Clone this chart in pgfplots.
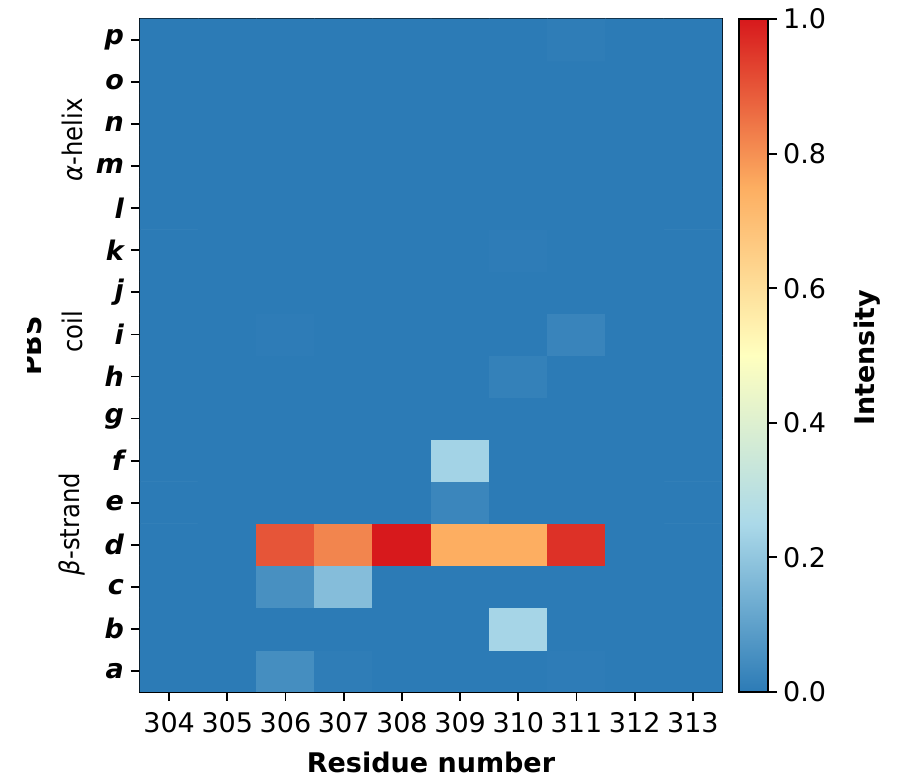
\documentclass[border=0pt]{standalone}
\usepackage{pgfplots}
\pgfplotsset{compat=1.18}
\usepackage{fontspec}
\setmainfont{DejaVu Sans}
\newfontfamily\cond{DejaVu Sans Condensed}
\pgfplotstableread{
x y c
304 0 0
305 0 0
306 0 0.05
307 0 0.006
308 0 0
309 0 0
310 0 0
311 0 0.004
312 0 0
313 0 0
304 1 0
305 1 0
306 1 0
307 1 0
308 1 0
309 1 0
310 1 0.24
311 1 0
312 1 0
313 1 0
304 2 0
305 2 0
306 2 0.055
307 2 0.175
308 2 0
309 2 0
310 2 0
311 2 0
312 2 0
313 2 0
304 3 0
305 3 0
306 3 0.90
307 3 0.82
308 3 1.0
309 3 0.75
310 3 0.75
311 3 0.96
312 3 0
313 3 0
304 4 0
305 4 0
306 4 0
307 4 0
308 4 0
309 4 0.03
310 4 0
311 4 0
312 4 0
313 4 0
304 5 0
305 5 0
306 5 0
307 5 0
308 5 0
309 5 0.235
310 5 0
311 5 0
312 5 0
313 5 0
304 6 0
305 6 0
306 6 0
307 6 0
308 6 0
309 6 0
310 6 0
311 6 0
312 6 0
313 6 0
304 7 0
305 7 0
306 7 0
307 7 0
308 7 0
309 7 0
310 7 0.015
311 7 0
312 7 0
313 7 0
304 8 0
305 8 0
306 8 0.004
307 8 0
308 8 0
309 8 0
310 8 0
311 8 0.025
312 8 0
313 8 0
304 9 0
305 9 0
306 9 0
307 9 0
308 9 0
309 9 0
310 9 0
311 9 0
312 9 0
313 9 0
304 10 0
305 10 0
306 10 0
307 10 0
308 10 0
309 10 0
310 10 0.003
311 10 0
312 10 0
313 10 0
304 11 0
305 11 0
306 11 0
307 11 0
308 11 0
309 11 0
310 11 0
311 11 0
312 11 0
313 11 0
304 12 0
305 12 0
306 12 0
307 12 0
308 12 0
309 12 0
310 12 0
311 12 0
312 12 0
313 12 0
304 13 0
305 13 0
306 13 0
307 13 0
308 13 0
309 13 0
310 13 0
311 13 0
312 13 0
313 13 0
304 14 0
305 14 0
306 14 0
307 14 0
308 14 0
309 14 0
310 14 0
311 14 0
312 14 0
313 14 0
304 15 0
305 15 0
306 15 0
307 15 0
308 15 0
309 15 0
310 15 0
311 15 0.005
312 15 0
313 15 0
}\heat
\begin{document}
\begin{tikzpicture}
\begin{axis}[
  scale only axis,
  width=291pt, height=336.5pt,
  xmin=303.5, xmax=313.5, ymin=-0.5, ymax=15.5,
  axis line style={line width=1pt},
  tick style={black, line width=0.9pt},
  major tick length=4.5pt,
  tick align=outside,
  xtick pos=bottom, ytick pos=left,
  xtick={304,...,313},
  ytick={0,...,15},
  yticklabels={a,b,c,d,e,f,g,h,i,j,k,l,m,n,o,p},
  /pgf/number format/assume math mode=true,
  /pgf/number format/.cd, set thousands separator={}, /pgfplots/.cd,
  xticklabel style={font=\fontsize{13.5}{16}\selectfont, yshift=-2pt},
  yticklabel style={font=\fontsize{13.5}{16}\selectfont\bfseries\itshape},
  colormap={rdylbu}{rgb255=(44,123,182) rgb255=(171,217,233) rgb255=(255,255,191) rgb255=(253,174,97) rgb255=(215,25,28)},
  point meta min=0, point meta max=1,
  colorbar,
  colorbar style={
    scale only axis,
    at={(parent axis.south east)}, anchor=south west,
    width=14.5pt, height=336.5pt,
    axis on top,
    axis line style={line width=1pt},
    ytick style={draw=none},
    ytick={0,0.2,0.4,0.6,0.8,1.0},
    yticklabel style={font=\fontsize{13.5}{16}\selectfont, xshift=4pt, /pgf/number format/.cd, fixed, fixed zerofill, precision=1, assume math mode=true},
  },
]
\addplot[matrix plot*, mesh/cols=10, point meta=explicit] table[x=x, y=y, meta=c] {\heat};
\end{axis}
% overlay axis that only carries the colorbar's outward tick marks on its right side
\begin{axis}[
  at={(299.5pt,0pt)}, anchor=south west,
  scale only axis,
  width=14.5pt, height=336.5pt,
  xmin=0, xmax=1, ymin=0, ymax=1,
  axis x line=none,
  axis y line*=right,
  axis line style={line width=1pt, -},
  ytick={0,0.2,0.4,0.6,0.8,1.0},
  yticklabels={},
  tick align=outside,
  major tick length=4.5pt,
  ytick style={draw=black, line width=1pt},
]
\end{axis}
\node[font=\fontsize{13.5}{16}\selectfont\bfseries] at (145.5pt,-35pt) {Residue number};
\node[font=\fontsize{13.5}{16}\selectfont\bfseries, rotate=90] at (363.5pt,167pt) {Intensity};
\node[font=\fontsize{13.5}{16}\selectfont\cond, rotate=90] at (-34pt,276pt) {\textit{α}-helix};
\node[font=\fontsize{13.5}{16}\selectfont\cond, rotate=90] at (-34pt,180pt) {coil};
\node[font=\fontsize{13.5}{16}\selectfont\cond, rotate=90] at (-34pt,84pt) {\textit{β}-strand};
\begin{scope}
\clip (-56pt,100pt) rectangle (-30pt,250pt);
\node[font=\fontsize{13.5}{16}\selectfont\bfseries, rotate=90, anchor=base] at (-49pt,173pt) {PBS};
\end{scope}
\pgfresetboundingbox
\useasboundingbox (-70pt,-44pt) rectangle (385pt,346pt);
\end{tikzpicture}
\end{document}
